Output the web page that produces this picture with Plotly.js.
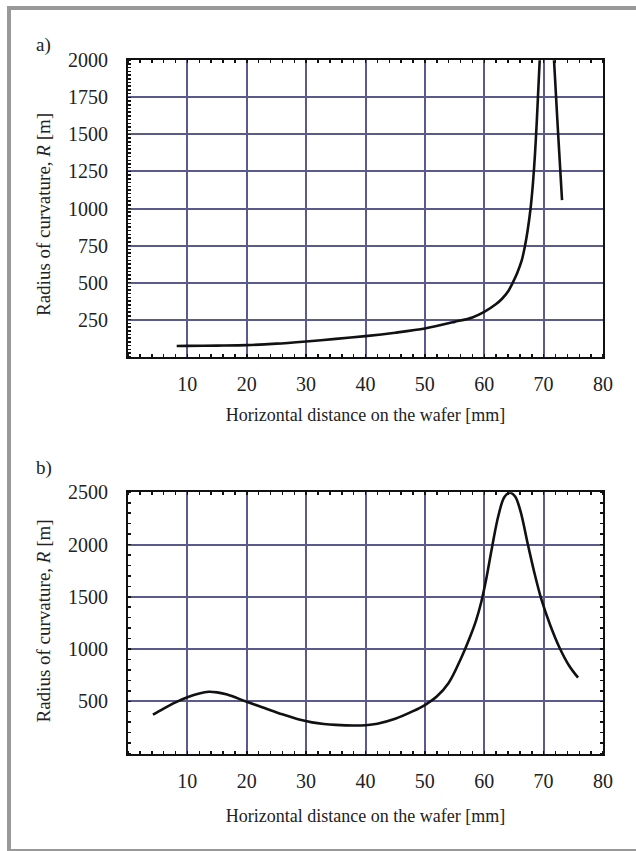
<!DOCTYPE html>
<html>
<head>
<meta charset="utf-8">
<script src="https://cdn.plot.ly/plotly-3.0.1.min.js"></script>
<style>html,body{margin:0;padding:0;background:#fff;}#chart{width:636px;height:851px;}</style>
</head>
<body>
<div id="chart"></div>
<script>
// Panel a) data
const aX = [8.2, 10, 15, 20, 25, 30, 35, 40, 45, 50, 55, 58, 60, 62, 63, 64, 64.7, 65.5, 66.3, 66.8, 67.3, 67.8, 68.2, 68.55, 68.85, 69.1, 69.4, 69.6, null, 71.5, 71.75, 72.1, 72.45, 73.1];
const aY = [72, 73, 75, 78, 88, 103, 120, 139, 162, 190, 235, 265, 302, 355, 391, 440, 492, 560, 648, 735, 850, 1000, 1170, 1370, 1590, 1800, 2050, 2220, null, 2150, 2000, 1750, 1500, 1057];
// Panel b) data
const bX = [4.2, 6, 8, 10, 12, 13.6, 15, 16.7, 20, 23, 26, 29, 31, 33, 35, 38, 40, 42, 45, 48, 50, 52, 54, 56, 57.6, 58.6, 59.5, 60.3, 61.3, 62.4, 63.4, 64.35, 65.2, 66.1, 67.35, 68.4, 69.6, 71.1, 72.7, 74.3, 75.8];
const bY = [371, 430, 490, 539, 575, 591, 585, 565, 495, 435, 375, 322, 298, 283, 274, 268, 271, 285, 332, 405, 464, 545, 675, 900, 1115, 1270, 1450, 1660, 1970, 2280, 2455, 2495, 2460, 2320, 2000, 1740, 1480, 1230, 1010, 840, 726];
// Tick labels
const xTicks = [10, 20, 30, 40, 50, 60, 70, 80];
const aYTicks = [250, 500, 750, 1000, 1250, 1500, 1750, 2000];
const bYTicks = [500, 1000, 1500, 2000, 2500];
const xTitle = 'Horizontal distance on the wafer [mm]';
const yTitle = 'Radius of curvature, <i>R</i> [m]';

const FONT = 'Liberation Serif, Times New Roman, serif';
const GRID = '#5a5a8c';
const tickFont = {family: FONT, size: 20, color: '#222'};
const titleFont = {family: FONT, size: 18, color: '#222'};

function xAxis(anchor, domain, standoff) {
  return {
    anchor: anchor, domain: domain, range: [0, 80], tickmode: 'array', tickvals: xTicks,
    showgrid: true, gridcolor: GRID, gridwidth: 2, zeroline: false,
    showline: true, linecolor: '#111', linewidth: 2, mirror: 'ticks', ticks: '',
    minor: {ticks: 'inside', ticklen: 3, tickwidth: 1.5, tickcolor: '#111', tickmode: 'linear', tick0: 0, dtick: 2, showgrid: false},
    tickfont: tickFont, ticklabelstandoff: 8,
    title: {text: xTitle, font: titleFont, standoff: standoff}, automargin: false
  };
}
function yAxis(anchor, domain, range, vals, mdt, mirror) {
  return {
    anchor: anchor, domain: domain, range: range, tickmode: 'array', tickvals: vals,
    showgrid: true, gridcolor: GRID, gridwidth: 2, zeroline: false,
    showline: true, linecolor: '#111', linewidth: 2, mirror: mirror, ticks: '',
    minor: {ticks: 'inside', ticklen: 3, tickwidth: 1.5, tickcolor: '#111', tickmode: 'linear', tick0: 0, dtick: mdt, showgrid: false},
    tickfont: tickFont, ticklabelstandoff: 14, automargin: false
  };
}

const traces = [
  {x: aX, y: aY, xaxis: 'x', yaxis: 'y', type: 'scatter', mode: 'lines',
   line: {color: '#111', width: 2.6, shape: 'spline', smoothing: 0.8}, connectgaps: false, hoverinfo: 'skip'},
  {x: bX, y: bY, xaxis: 'x2', yaxis: 'y2', type: 'scatter', mode: 'lines',
   line: {color: '#111', width: 2.6, shape: 'spline', smoothing: 1}, hoverinfo: 'skip'}
];

const W = 636, H = 851;
const layout = {
  width: W, height: H, margin: {l: 0, r: 0, t: 0, b: 0},
  paper_bgcolor: '#fff', plot_bgcolor: '#fff', showlegend: false,
  xaxis: xAxis('y', [128/W, 603/W], 15),
  yaxis: yAxis('x', [1 - 356.7/H, 1 - 60.3/H], [0, 2000], aYTicks, 25, true),
  xaxis2: xAxis('y2', [128/W, 603/W], 19),
  yaxis2: yAxis('x2', [1 - 753.5/H, 1 - 492.3/H], [0, 2500], bYTicks, 100, 'ticks'),
  annotations: [
    {text: 'a)', xref: 'paper', yref: 'paper', x: 34/W, y: 1 - 32/H, xanchor: 'left', yanchor: 'top', showarrow: false, font: {family: FONT, size: 19, color: '#222'}},
    {text: 'b)', xref: 'paper', yref: 'paper', x: 34/W, y: 1 - 455/H, xanchor: 'left', yanchor: 'top', showarrow: false, font: {family: FONT, size: 19, color: '#222'}},
    {text: yTitle, xref: 'paper', yref: 'paper', x: 43/W, y: 1 - 215/H, xanchor: 'center', yanchor: 'middle', textangle: -90, showarrow: false, font: {family: FONT, size: 19, color: '#222'}},
    {text: yTitle, xref: 'paper', yref: 'paper', x: 43/W, y: 1 - 621.5/H, xanchor: 'center', yanchor: 'middle', textangle: -90, showarrow: false, font: {family: FONT, size: 19, color: '#222'}}
  ],
  shapes: [
    {type: 'rect', xref: 'paper', yref: 'paper', x0: 7/W, x1: 11/W, y0: 0, y1: 1 - 6/H, fillcolor: '#999', line: {width: 0}, layer: 'below'},
    {type: 'rect', xref: 'paper', yref: 'paper', x0: 7/W, x1: 1, y0: 1 - 10/H, y1: 1 - 6/H, fillcolor: '#999', line: {width: 0}, layer: 'below'},
    {type: 'rect', xref: 'paper', yref: 'paper', x0: 7/W, x1: 1, y0: 0, y1: 2/H, fillcolor: '#999', line: {width: 0}, layer: 'below'}
  ]
};

Plotly.newPlot('chart', traces, layout, {staticPlot: true, displayModeBar: false});
</script>
</body>
</html>
